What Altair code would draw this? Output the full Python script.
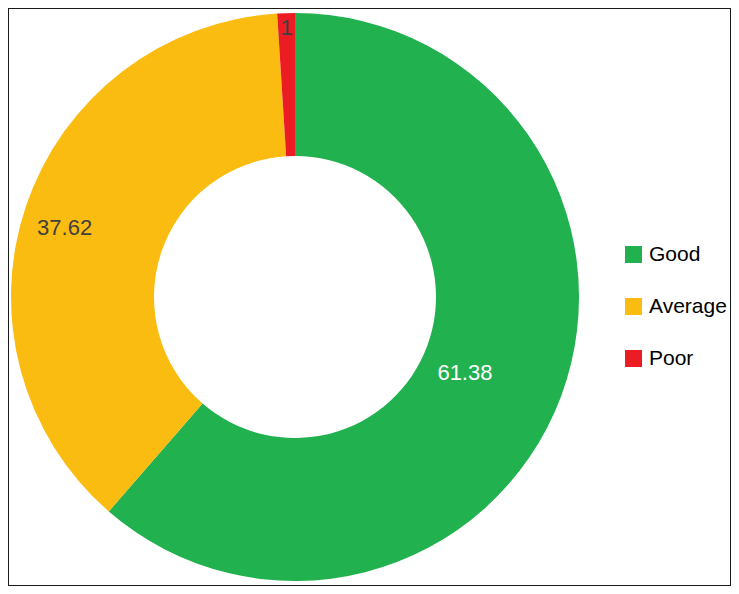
import math
import altair as alt
import pandas as pd

categories = ["Good", "Average", "Poor"]
values = [61.38, 37.62, 1]
labels = ["61.38", "37.62", "1"]
colors = ["#22b14f", "#fbbc12", "#ec1c24"]

df = pd.DataFrame({
    "category": categories,
    "value": values,
    "idx": list(range(len(categories))),
    "label": labels,
})

CX, CY = 287, 289
FONT = "Liberation Sans"
W, H = 723, 578

theta_scale = alt.Scale(domain=[0, 1], range=[0, 2 * math.pi])

base = (
    alt.Chart(df)
    .transform_joinaggregate(total="sum(value)")
    .transform_window(cum="sum(value)", sort=[alt.SortField("idx")], frame=[None, 0])
    .transform_calculate(
        start="(datum.cum - datum.value)/datum.total",
        end="datum.cum/datum.total",
        mid="(datum.cum - datum.value/2)/datum.total",
    )
)

arc = base.mark_arc(outerRadius=284, innerRadius=141, x=CX, y=CY).encode(
    theta=alt.Theta("start:Q", scale=theta_scale),
    theta2="end:Q",
    color=alt.Color(
        "category:N",
        scale=alt.Scale(domain=categories, range=colors),
        sort=categories,
        legend=alt.Legend(
            title=None,
            orient="none",
            legendX=615,
            legendY=236,
            symbolType="square",
            symbolSize=289,
            symbolStrokeWidth=0,
            labelFont=FONT,
            labelFontSize=21,
            labelColor="#000000",
            labelOffset=5,
            rowPadding=30,
        ),
    ),
)

# label radius, colour and fine offsets
label_style = {
    "Good": (191, "#ffffff", -9, 9),
    "Average": (240, "#404040", -3, 8),
    "Poor": (269, "#404040", 0, 0),
}
layers = [arc]
for cat, (r, col, ddx, ddy) in label_style.items():
    layers.append(
        base.transform_filter(alt.datum.category == cat)
        .mark_text(radius=r, x=CX, y=CY, font=FONT, fontSize=22, color=col, dx=ddx, dy=ddy)
        .encode(
            theta=alt.Theta("mid:Q", scale=theta_scale),
            text="label:N",
        )
    )

frame = (
    alt.Chart(pd.DataFrame({"k": [0]}))
    .mark_rect(fill=None, stroke="#1a1a1a", strokeWidth=2)
    .encode(x=alt.value(0), x2=alt.value(W), y=alt.value(0), y2=alt.value(H))
)
layers.append(frame)

chart = (
    alt.layer(*layers)
    .properties(width=W, height=H, autosize=alt.AutoSizeParams(type="none"), padding=0)
    .configure_view(stroke=None)
    .configure(background="#ffffff")
)

chart.save("out.html", embed_options={"renderer": "svg", "actions": False})
